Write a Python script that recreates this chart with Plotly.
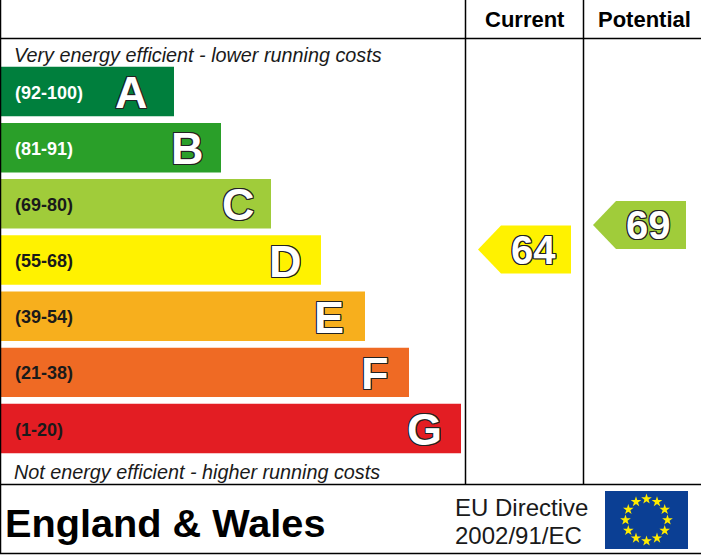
import plotly.graph_objects as go

# ---------- data ----------
bands = ["A", "B", "C", "D", "E", "F", "G"]
ranges = ["(92-100)", "(81-91)", "(69-80)", "(55-68)", "(39-54)", "(21-38)", "(1-20)"]
band_lengths = [174, 221, 271, 321, 365, 409, 461]
band_colors = ["#007f3d", "#2a9f29", "#a0cc3a", "#fff200", "#f7af1d", "#ef6a24", "#e31d23"]
range_colors = ["#ffffff", "#ffffff", "#1a1a1a", "#1a1a1a", "#1a1a1a", "#1a1a1a", "#1a1a1a"]
letter_offsets = [43, 34, 33, 36, 36, 34, 37]

column_titles = ["Current", "Potential"]
scores = [64, 69]
score_colors = ["#fff200", "#a0cc3a"]
score_right_edges = [571, 686]

star_angles = [0, 30, 60, 90, 120, 150, 180, 210, 240, 270, 300, 330]
star_radius = [1] * 12

W, H = 701, 555
FONT = "Liberation Sans"
OUTLINE = ("-1px -1px 0 #222, 1px -1px 0 #222, -1px 1px 0 #222, 1px 1px 0 #222, "
           "0 -1px 0 #222, 0 1px 0 #222, -1px 0 0 #222, 1px 0 0 #222")

fig = go.Figure()

# rating bars: equal bands on a category axis
fig.add_trace(go.Bar(
    y=bands, x=band_lengths, orientation="h", width=0.88,
    marker=dict(color=band_colors, line_width=0), hoverinfo="skip", showlegend=False,
))

# score pointers, placed by score on a linear axis
HALF = 4.9      # half pointer height in score units
TIP = 23        # tip length, px
BODY = 70       # body length, px
for s, c, r in zip(scores, score_colors, score_right_edges):
    fig.add_trace(go.Scatter(
        x=[r - BODY - TIP, r - BODY, r, r, r - BODY, r - BODY - TIP],
        y=[s, s + HALF, s + HALF, s - HALF, s - HALF, s],
        yaxis="y2", mode="lines", line_width=0, fill="toself", fillcolor=c,
        hoverinfo="skip", showlegend=False,
    ))

# EU stars on a small polar plot
fig.add_trace(go.Scatterpolar(
    theta=star_angles, r=star_radius, mode="markers",
    marker=dict(symbol="star", size=8, color="#ffec00", line_width=0),
    hoverinfo="skip", showlegend=False,
))

ann = []
def text(x, y, s, size, color="#000000", bold=False, italic=False, anchor="left",
         xref="x", yref="paper", shadow=None, yshift=0):
    f = dict(family=FONT, size=size, color=color,
             weight="bold" if bold else "normal",
             style="italic" if italic else "normal")
    if shadow:
        f["shadow"] = shadow
    ann.append(dict(x=x, y=y, xref=xref, yref=yref, text=s, showarrow=False, font=f,
                    xanchor=anchor, yanchor="middle", align=anchor, yshift=yshift))

def py(p):
    return 1 - p / H

for b, rng, L, col, off in zip(bands, ranges, band_lengths, range_colors, letter_offsets):
    text(13, b, rng, 18, col, bold=True, yref="y", yshift=-1)
    text(L - off, b, b, 45, "#ffffff", bold=True, anchor="center", yref="y", shadow=OUTLINE, yshift=-1)

for s, r in zip(scores, score_right_edges):
    text(r - 38, s, str(s), 40, "#ffffff", bold=True, anchor="center", yref="y2", shadow=OUTLINE)

text(524.5, py(20), column_titles[0], 22, bold=True, anchor="center")
text(644, py(20), column_titles[1], 22, bold=True, anchor="center")
text(12, py(55), "Very energy efficient - lower running costs", 19.8, "#1a1a1a", italic=True)
text(12, py(472), "Not energy efficient - higher running costs", 19.8, "#1a1a1a", italic=True)
text(3, py(523), "England &amp; Wales", 39.7, bold=True)
text(453, py(507), "EU Directive", 24, "#1a1a1a")
text(453, py(535), "2002/91/EC", 24, "#1a1a1a")

def line(x0, y0, x1, y1):
    return dict(type="line", xref="paper", yref="paper", x0=x0 / W, x1=x1 / W,
                y0=py(y0), y1=py(y1), line=dict(color="#000000", width=1.5), layer="above")

shapes = [
    line(0.5, 0, 0.5, 553.5),
    line(0, 38.5, W, 38.5), line(0, 484.5, W, 484.5), line(0, 553.5, W, 553.5),
    line(465.5, 0, 465.5, 484.5), line(583.5, 0, 583.5, 484.5),
    dict(type="rect", xref="paper", yref="paper", x0=605 / W, x1=688 / W,
         y0=py(491), y1=py(549), fillcolor="#0b3f94", line_width=0, layer="below"),
]

# y axis ranges: pixel rows 0..555 expressed in band index and in score units
band_top = -1.629
band_bottom = 8.252
fig.update_layout(
    width=W, height=H, margin=dict(l=0, r=0, t=0, b=0), autosize=False,
    paper_bgcolor="#ffffff", plot_bgcolor="rgba(0,0,0,0)",
    xaxis=dict(range=[0, W], visible=False, domain=[0, 1], fixedrange=True),
    yaxis=dict(type="category", categoryorder="array", categoryarray=bands,
               range=[band_bottom, band_top], visible=False, domain=[0, 1], fixedrange=True),
    yaxis2=dict(range=[1.653, 114.92], visible=False, overlaying="y", side="right", fixedrange=True),
    polar=dict(
        domain=dict(x=[(646.5 - 21) / W, (646.5 + 21) / W], y=[py(520 + 21), py(520 - 21)]),
        bgcolor="rgba(0,0,0,0)",
        radialaxis=dict(visible=False, range=[0, 1]),
        angularaxis=dict(visible=False),
    ),
    annotations=ann, shapes=shapes, showlegend=False,
)
fig.write_html("out.html", config={"displayModeBar": False},
               post_script="document.body.style.margin='0';document.documentElement.style.overflow='hidden';")
